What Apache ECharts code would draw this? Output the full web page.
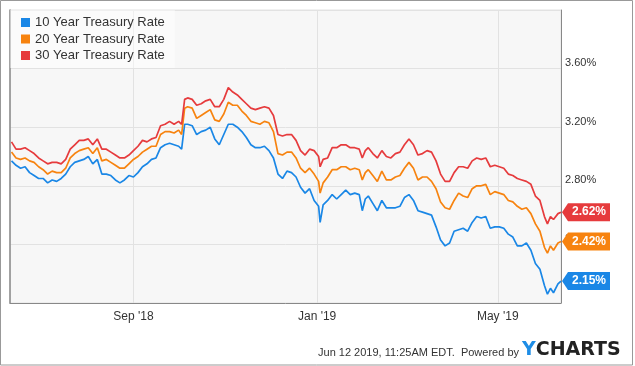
<!DOCTYPE html>
<html><head><meta charset="utf-8">
<script src="https://cdn.jsdelivr.net/npm/echarts@6/dist/echarts.min.js"></script>
<style>html,body{margin:0;padding:0;background:#fff}#c{width:635px;height:366px}</style>
</head><body><div id="c"></div>
<script>
const dates = ['2018-06-12','2018-06-15','2018-06-18','2018-06-21','2018-06-24','2018-06-27','2018-06-30','2018-07-03','2018-07-06','2018-07-09','2018-07-12','2018-07-15','2018-07-18','2018-07-21','2018-07-24','2018-07-27','2018-07-30','2018-08-02','2018-08-05','2018-08-08','2018-08-11','2018-08-14','2018-08-17','2018-08-20','2018-08-23','2018-08-26','2018-08-29','2018-09-01','2018-09-04','2018-09-07','2018-09-10','2018-09-13','2018-09-16','2018-09-19','2018-09-22','2018-09-25','2018-09-28','2018-10-01','2018-10-03','2018-10-05','2018-10-07','2018-10-10','2018-10-13','2018-10-16','2018-10-19','2018-10-22','2018-10-25','2018-10-28','2018-10-31','2018-11-03','2018-11-06','2018-11-09','2018-11-12','2018-11-15','2018-11-18','2018-11-21','2018-11-24','2018-11-27','2018-11-30','2018-12-03','2018-12-06','2018-12-09','2018-12-12','2018-12-15','2018-12-18','2018-12-21','2018-12-24','2018-12-27','2018-12-30','2019-01-02','2019-01-03','2019-01-05','2019-01-08','2019-01-11','2019-01-14','2019-01-17','2019-01-20','2019-01-23','2019-01-26','2019-01-29','2019-01-31','2019-02-02','2019-02-04','2019-02-07','2019-02-10','2019-02-13','2019-02-16','2019-02-19','2019-02-22','2019-02-25','2019-02-28','2019-03-03','2019-03-06','2019-03-09','2019-03-12','2019-03-15','2019-03-18','2019-03-21','2019-03-24','2019-03-27','2019-03-30','2019-04-02','2019-04-05','2019-04-08','2019-04-11','2019-04-14','2019-04-17','2019-04-20','2019-04-23','2019-04-26','2019-04-29','2019-05-02','2019-05-05','2019-05-08','2019-05-11','2019-05-14','2019-05-17','2019-05-20','2019-05-23','2019-05-26','2019-05-29','2019-06-01','2019-06-03','2019-06-05','2019-06-07','2019-06-10','2019-06-12'];
const rate10 = [2.97,2.94,2.92,2.93,2.89,2.87,2.85,2.85,2.82,2.84,2.83,2.85,2.88,2.93,2.96,2.97,2.98,3.00,2.95,2.98,2.88,2.88,2.87,2.84,2.82,2.84,2.87,2.86,2.89,2.93,2.95,2.98,2.99,3.06,3.08,3.09,3.08,3.07,3.05,3.22,3.22,3.21,3.15,3.17,3.18,3.20,3.12,3.08,3.15,3.22,3.22,3.20,3.17,3.13,3.08,3.06,3.06,3.07,3.04,2.99,2.88,2.85,2.90,2.89,2.86,2.79,2.75,2.78,2.70,2.66,2.55,2.67,2.70,2.74,2.71,2.74,2.77,2.74,2.75,2.74,2.63,2.71,2.73,2.68,2.63,2.70,2.65,2.65,2.65,2.66,2.72,2.74,2.70,2.63,2.62,2.61,2.60,2.52,2.43,2.39,2.41,2.49,2.50,2.51,2.49,2.55,2.59,2.58,2.59,2.51,2.52,2.52,2.51,2.47,2.45,2.39,2.39,2.41,2.36,2.27,2.23,2.12,2.06,2.10,2.07,2.13,2.15];
const rate20 = [3.03,2.99,2.98,2.99,2.97,2.96,2.93,2.91,2.88,2.90,2.89,2.89,2.92,2.99,3.02,3.04,3.05,3.06,3.02,3.06,2.97,2.98,2.96,2.94,2.92,2.92,2.95,2.98,3.00,3.03,3.05,3.07,3.07,3.15,3.17,3.17,3.16,3.18,3.15,3.33,3.34,3.33,3.26,3.28,3.30,3.32,3.25,3.24,3.29,3.37,3.35,3.35,3.31,3.28,3.24,3.23,3.22,3.24,3.23,3.17,3.02,3.01,3.03,3.03,2.99,2.92,2.89,2.92,2.88,2.83,2.75,2.82,2.86,2.91,2.91,2.93,2.93,2.91,2.92,2.91,2.84,2.89,2.91,2.87,2.83,2.90,2.84,2.84,2.86,2.87,2.92,2.96,2.92,2.84,2.86,2.86,2.83,2.78,2.69,2.65,2.64,2.70,2.75,2.73,2.72,2.78,2.80,2.80,2.81,2.74,2.76,2.75,2.74,2.70,2.69,2.66,2.64,2.65,2.61,2.54,2.49,2.38,2.34,2.39,2.36,2.41,2.42];
const rate30 = [3.10,3.05,3.05,3.06,3.04,3.02,2.99,2.97,2.95,2.96,2.96,2.95,2.98,3.05,3.08,3.11,3.11,3.12,3.08,3.12,3.05,3.05,3.03,3.01,2.99,2.99,3.01,3.04,3.07,3.11,3.10,3.12,3.13,3.21,3.22,3.24,3.22,3.24,3.22,3.39,3.40,3.39,3.35,3.36,3.38,3.39,3.34,3.34,3.39,3.47,3.44,3.42,3.39,3.36,3.33,3.32,3.33,3.34,3.33,3.28,3.15,3.14,3.15,3.15,3.11,3.04,3.01,3.05,3.04,3.00,2.93,2.98,2.99,3.06,3.06,3.08,3.08,3.06,3.06,3.05,2.99,3.04,3.06,3.02,2.99,3.04,3.00,2.99,3.02,3.03,3.08,3.12,3.08,3.01,3.02,3.04,3.03,2.97,2.88,2.83,2.83,2.89,2.93,2.93,2.92,2.97,2.99,2.98,2.99,2.93,2.94,2.93,2.92,2.88,2.87,2.85,2.84,2.83,2.81,2.73,2.70,2.59,2.54,2.59,2.57,2.61,2.62];
const seriesNames = ['10 Year Treasury Rate','20 Year Treasury Rate','30 Year Treasury Rate'];
const seriesColors = ['#1a87e6','#f7830f','#e63b3d'];
const xTickDates = ['2018-09-01','2019-01-01','2019-05-01'];
const xTickLabels = ["Sep '18","Jan '19","May '19"];
const xRange = ['2018-06-11','2019-06-12'];
const yMin = 2.0, yMax = 4.0, yStep = 0.4;

function toTs(s){const p=s.split('-').map(Number);return new Date(p[0],p[1]-1,p[2]).getTime();}
const tickTs = xTickDates.map(toTs);
const FONT = '"Liberation Sans", Arial, sans-serif';

const allRates = [rate10, rate20, rate30];
const series = allRates.map((vals, k) => {
  const data = dates.map((d, i) => [toTs(d), vals[i]]);
  const last = data[data.length - 1];
  return {
    name: seriesNames[k], type: 'line', data: data, showSymbol: false, symbol: 'none',
    lineStyle: {width: 1.7, color: seriesColors[k]}, itemStyle: {color: seriesColors[k]},
    z: 2 + k,
    markPoint: {
      symbol: 'path://M0,9 L6,0 L48,0 L48,18 L6,18 Z',
      symbolSize: [48, 18], symbolOffset: [25, 0],
      itemStyle: {color: seriesColors[k]},
      label: {show: true, position: 'inside', offset: [3, 0], color: '#fff', fontWeight: 'bold', fontSize: 12, fontFamily: FONT,
        formatter: p => p.value.toFixed(2) + '%'},
      data: [{coord: last, value: last[1]}]
    }
  };
});

const chart = echarts.init(document.getElementById('c'), null, {renderer: 'canvas'});
chart.setOption({
  animation: false,
  backgroundColor: '#fff',
  grid: {left: 10, top: 10, right: 74, bottom: 63, show: true, backgroundColor: '#f7f7f7', borderColor: '#e2e2e2', borderWidth: 1},
  legend: {
    data: seriesNames, orient: 'vertical', left: 10, top: 10, padding: [6, 10, 6, 11],
    itemWidth: 9, itemHeight: 9, itemGap: 3.5, icon: 'rect',
    backgroundColor: 'rgba(255,255,255,0.45)',
    textStyle: {fontSize: 13, color: '#333', fontFamily: FONT}
  },
  xAxis: {
    type: 'value', min: toTs(xRange[0]), max: toTs(xRange[1]),
    axisLine: {show: true, onZero: false, lineStyle: {color: '#888', width: 1}},
    axisTick: {show: false, customValues: tickTs},
    axisLabel: {customValues: tickTs, margin: 8, fontSize: 12, color: '#333', fontFamily: FONT,
      formatter: v => xTickLabels[tickTs.indexOf(v)] || ''},
    splitLine: {show: true, lineStyle: {color: '#e2e2e2', width: 1}}
  },
  yAxis: [{
    type: 'value', position: 'right', min: yMin, max: yMax, interval: yStep,
    axisLine: {show: true, lineStyle: {color: '#888', width: 1}},
    axisTick: {show: false},
    axisLabel: {showMinLabel: false, showMaxLabel: false, margin: 4, fontSize: 11, color: '#333', fontFamily: FONT,
      verticalAlign: 'bottom', formatter: v => v.toFixed(2) + '%'},
    splitLine: {show: true, lineStyle: {color: '#e2e2e2', width: 1}}
  }, {
    type: 'value', position: 'left', min: yMin, max: yMax, interval: yStep,
    axisLine: {show: true, onZero: false, lineStyle: {color: '#888', width: 1.5}},
    axisTick: {show: false}, axisLabel: {show: false}, splitLine: {show: false}
  }],
  series: series,
  graphic: [
    {type: 'rect', silent: true, shape: {x: 0.5, y: 0.5, width: 632, height: 364.5}, style: {fill: 'none', stroke: '#999', lineWidth: 1}},
    {type: 'text', silent: true, x: 519, y: 353, style: {text: 'Jun 12 2019, 11:25AM EDT.  Powered by', align: 'right', verticalAlign: 'middle', fontSize: 11, fontFamily: FONT, fill: '#333'}},
    {type: 'text', silent: true, x: 522, y: 350, style: {text: '{y|Y}{c|CHARTS}', verticalAlign: 'middle',
      rich: {y: {fill: '#1e8de6', fontSize: 19, fontWeight: 'bold', fontFamily: '"DejaVu Sans"'},
             c: {fill: '#222', fontSize: 19, fontWeight: 'bold', fontFamily: '"DejaVu Sans"'}}}}
  ]
});
</script></body></html>
